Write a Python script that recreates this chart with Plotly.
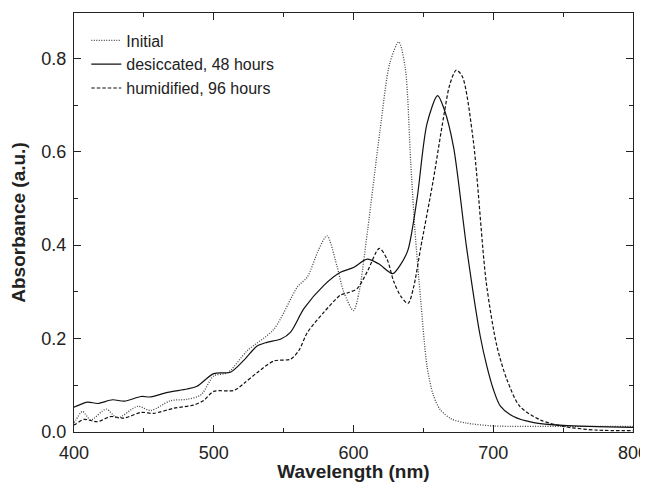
import plotly.graph_objects as go

# Initial (dotted)
wl_initial = [400, 401.4, 406, 412, 423, 431, 445.5, 455, 469, 481, 491, 500, 510, 524, 543, 560, 567, 575,
              581, 588, 593, 600, 604, 610, 619, 626, 632.4, 637, 641, 644, 648, 652.6, 657, 662, 670, 681,
              700, 750, 800]
abs_initial = [0.020, 0.026, 0.044, 0.026, 0.049, 0.030, 0.055, 0.046, 0.067, 0.070, 0.080, 0.120, 0.127,
               0.174, 0.220, 0.311, 0.332, 0.390, 0.420, 0.357, 0.300, 0.260, 0.300, 0.430, 0.646, 0.790,
               0.835, 0.780, 0.574, 0.430, 0.285, 0.141, 0.080, 0.048, 0.028, 0.019, 0.013, 0.012, 0.012]

# desiccated, 48 hours (solid)
wl_desic = [400, 401.4, 409.8, 417, 427.6, 436, 448, 455, 467, 481, 488, 500, 512, 522, 531, 538, 548, 555,
            564.5, 578.8, 590.7, 600, 609.8, 618, 628, 634, 639, 645.5, 652.6, 660.2, 665, 671.6, 681, 690.7,
            695.5, 700, 705, 714.5, 729, 750, 800]
abs_desic = [0.053, 0.055, 0.064, 0.061, 0.069, 0.066, 0.076, 0.075, 0.085, 0.092, 0.098, 0.125, 0.128, 0.155,
             0.184, 0.192, 0.199, 0.214, 0.264, 0.314, 0.342, 0.352, 0.370, 0.360, 0.339, 0.360, 0.390, 0.500,
             0.660, 0.720, 0.690, 0.610, 0.393, 0.205, 0.140, 0.092, 0.056, 0.033, 0.020, 0.014, 0.010]

# humidified, 96 hours (dashed)
wl_humid = [400, 401.4, 407, 417, 426, 436, 448, 457, 471.6, 486, 493, 500, 514.5, 522, 531, 543, 555, 561,
            567, 579, 590.7, 596, 602.6, 609.8, 618.5, 624, 628.8, 634, 639, 643, 648, 657, 664.5, 669, 673.6,
            678, 685.7, 695, 702.6, 709.8, 719, 733.6, 750, 774, 800]
abs_humid = [0.015, 0.017, 0.027, 0.022, 0.033, 0.030, 0.042, 0.040, 0.051, 0.058, 0.068, 0.087, 0.089, 0.105,
             0.127, 0.152, 0.156, 0.175, 0.213, 0.257, 0.293, 0.298, 0.307, 0.343, 0.393, 0.370, 0.322, 0.290,
             0.275, 0.310, 0.393, 0.538, 0.675, 0.745, 0.775, 0.760, 0.624, 0.320, 0.184, 0.112, 0.055, 0.026,
             0.012, 0.004, 0.003]

x_ticks = [400, 500, 600, 700, 800]
y_ticks = [0.0, 0.2, 0.4, 0.6, 0.8]

FONT = "Liberation Sans, Arial, Helvetica"

fig = go.Figure()
fig.add_trace(go.Scatter(x=wl_initial, y=abs_initial, mode="lines", name="Initial",
                         line=dict(color="#444444", width=1.3, dash="1px,1.5px", shape="spline", smoothing=0.8)))
fig.add_trace(go.Scatter(x=wl_desic, y=abs_desic, mode="lines", name="desiccated, 48 hours",
                         line=dict(color="#111111", width=1.2, dash="solid", shape="spline", smoothing=0.8)))
fig.add_trace(go.Scatter(x=wl_humid, y=abs_humid, mode="lines", name="humidified, 96 hours",
                         line=dict(color="#111111", width=1.2, dash="3.5px,2px", shape="spline", smoothing=0.8)))

axis_common = dict(showline=True, linecolor="#222222", linewidth=1.3, mirror="ticks", ticks="inside",
                   ticklen=7, tickwidth=1.3, tickcolor="#222222", showgrid=False, zeroline=False,
                   automargin=False, ticklabeloverflow="allow",
                   tickfont=dict(family=FONT, size=18, color="#222222"))

fig.update_xaxes(range=[400, 800], tickvals=x_ticks, ticktext=[str(v) for v in x_ticks],
                 ticklabelstandoff=4,
                 minor=dict(ticks="inside", ticklen=4, tickcolor="#222222", dtick=50, tick0=400, showgrid=False),
                 title=dict(text="<b>Wavelength (nm)</b>", standoff=12,
                            font=dict(family=FONT, size=19, color="#222222")),
                 **axis_common)
fig.update_yaxes(range=[0, 0.897], tickvals=y_ticks, ticktext=["0.0", "0.2", "0.4", "0.6", "0.8"],
                 ticklabelstandoff=3,
                 minor=dict(ticks="inside", ticklen=4, tickcolor="#222222", dtick=0.1, tick0=0, showgrid=False),
                 title=dict(text="<b>Absorbance (a.u.)</b>", standoff=14,
                            font=dict(family=FONT, size=19, color="#222222")),
                 **axis_common)

# page body adds an 8px offset, so the figure is 8px smaller than the window
fig.update_layout(width=640, height=474, plot_bgcolor="white", paper_bgcolor="white",
                  margin=dict(l=66, r=15, t=5, b=50),
                  legend=dict(x=0.022, y=0.975, xanchor="left", yanchor="top", bgcolor="rgba(0,0,0,0)",
                              font=dict(family=FONT, size=16, color="#222222"),
                              tracegroupgap=0, itemwidth=30))

fig.write_html("out.html")
